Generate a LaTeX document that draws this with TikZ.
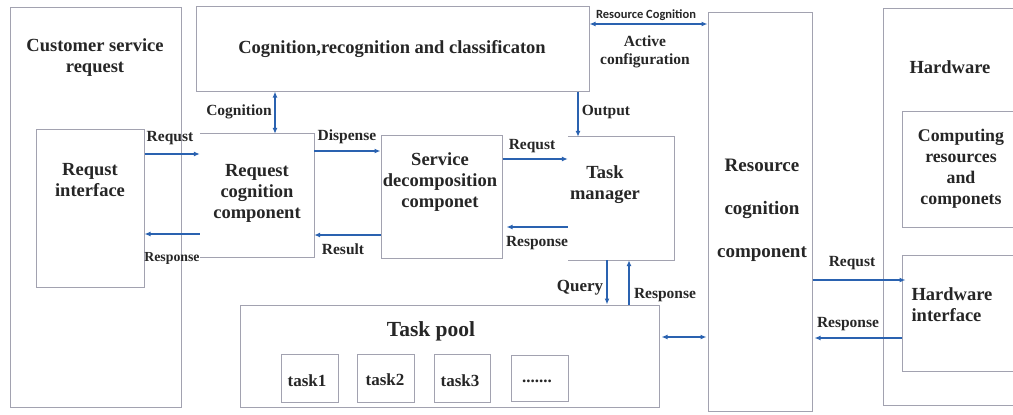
\documentclass[tikz,border=0pt]{standalone}
\usepackage{fontspec}
\setmainfont{Liberation Serif}
\newfontfamily\bodyfont{Liberation Serif}
\newfontfamily\smallsans{Carlito}
\usetikzlibrary{arrows.meta}
\definecolor{boxgray}{HTML}{A2A2B0}
\definecolor{arrowblue}{HTML}{2A62B0}
\definecolor{txt}{HTML}{262626}
\tikzset{
  box/.style={draw=boxgray, line width=1pt, fill=white, inner sep=0pt},
  openbox/.style={draw=none, fill=white, inner sep=0pt},
  main/.style={text=txt, align=center, font=\bodyfont\bfseries\fontsize{18.5}{21}\selectfont, inner sep=0pt},
  lbl/.style={text=txt, align=center, font=\bodyfont\bfseries\fontsize{15.5}{18.5}\selectfont, inner sep=0pt},
  conn/.style={draw=arrowblue, line width=1.6pt, -{Latex[length=6pt,width=5pt]}},
  biconn/.style={draw=arrowblue, line width=1.6pt, {Latex[length=6pt,width=5pt]}-{Latex[length=6pt,width=5pt]}},
}
\begin{document}
\begin{tikzpicture}[x=1pt,y=-1pt]
\useasboundingbox (0,0) rectangle (1013,415);
\clip (0,0) rectangle (1013,415);
% boxes
\node[box, minimum width=171pt, minimum height=400pt] (cust) at (95.5,207) {};
\node[box, minimum width=108pt, minimum height=158pt] (reqif) at (90,208) {};
\node[box, minimum width=393pt, minimum height=85pt] (cog) at (392.5,48.5) {};
\node[openbox, minimum width=114pt, minimum height=123pt] (rcc) at (257,195.5) {};
\draw[boxgray, line width=1pt] (rcc.north west) -- (rcc.north east) -- (rcc.south east) -- (rcc.south west);
\node[box, minimum width=121pt, minimum height=123pt] (sdc) at (441.5,196.5) {};
\node[openbox, minimum width=106pt, minimum height=123pt] (tm) at (621,198.5) {};
\draw[boxgray, line width=1pt] (tm.north west) -- (tm.north east) -- (tm.south east) -- (tm.south west);
\node[box, minimum width=104pt, minimum height=399pt] (res) at (760,211.5) {};
\node[box, minimum width=137pt, minimum height=397pt] (hw) at (951.5,206.5) {};
\node[box, minimum width=118pt, minimum height=116pt] (comp) at (961,169) {};
\node[box, minimum width=118pt, minimum height=116pt] (hwif) at (961,313) {};
\node[box, minimum width=419pt, minimum height=102pt] (pool) at (449.5,356) {};
\node[box, minimum width=57pt, minimum height=48pt] (t1) at (309.5,378) {};
\node[box, minimum width=57pt, minimum height=48pt] (t2) at (385.5,378) {};
\node[box, minimum width=56pt, minimum height=48pt] (t3) at (462,378) {};
\node[box, minimum width=57pt, minimum height=46pt] (t4) at (539.5,378) {};
% box texts
\node[main] (custT) at (95,57.5) {Customer service\\request};
\node[main] (cogT) at (392,49) {Cognition,recognition and classificaton};
\node[main] (reqifT) at (90,180) {Requst\\interface};
\node[main] (rccT) at (257,193) {Request\\cognition\\component};
\node[main] (sdcT) at (440,182) {Service\\decomposition\\componet};
\node[main] (tmT) at (605,185) {Task\\manager};
\node[main, font=\bodyfont\bfseries\fontsize{19}{43}\selectfont] (resT) at (762,210) {Resource\\cognition\\component};
\node[main] (hwT) at (950,67) {Hardware};
\node[main, font=\bodyfont\bfseries\fontsize{17.8}{21}\selectfont] (compT) at (961,169) {Computing\\resources\\and\\componets};
\node[main, align=left] (hwifT) at (952,305) {Hardware\\interface};
\node[main, font=\bodyfont\bfseries\fontsize{21.5}{24}\selectfont] (poolT) at (431,331) {Task pool};
\node[lbl, font=\bodyfont\bfseries\fontsize{17}{20}\selectfont] (t1T) at (307,381) {task1};
\node[lbl, font=\bodyfont\bfseries\fontsize{17}{20}\selectfont] (t2T) at (385,380) {task2};
\node[lbl, font=\bodyfont\bfseries\fontsize{17}{20}\selectfont] (t3T) at (460,381) {task3};
\node[lbl, font=\bodyfont\bfseries\fontsize{17}{20}\selectfont] (t4T) at (537,381) {.......};
% connectors
\draw[conn] (reqif.east |- 0,154) -- (rcc.west |- 0,154);
\draw[conn] (rcc.west |- 0,234) -- (reqif.east |- 0,234);
\draw[biconn] (cog.south -| 275,0) -- (rcc.north -| 275,0);
\draw[conn] (rcc.east |- 0,151) -- (sdc.west |- 0,151);
\draw[conn] (sdc.west |- 0,235) -- (rcc.east |- 0,235);
\draw[conn] (cog.south -| 578,0) -- (tm.north -| 578,0);
\draw[biconn] (cog.east |- 0,24) -- (res.west |- 0,24);
\draw[conn] (sdc.east |- 0,159) -- (tm.west |- 0,159);
\draw[conn] (tm.west |- 0,227) -- ([xshift=4pt]sdc.east |- 0,227);
\draw[conn] (tm.south -| 607,0) -- (pool.north -| 607,0);
\draw[conn] (pool.north -| 629,0) -- (tm.south -| 629,0);
\draw[biconn] ([xshift=2pt]pool.east |- 0,337) -- ([xshift=-1pt]res.west |- 0,337);
\draw[conn] (res.east |- 0,280) -- ([xshift=4pt]hwif.west |- 0,280);
\draw[conn] (hwif.west |- 0,338) -- ([xshift=2pt]res.east |- 0,338);
% connector labels
\node[lbl] (l1) at (170,138) {Requst};
\node[lbl, font=\bodyfont\bfseries\fontsize{13.8}{16}\selectfont] (l2) at (172,258) {Response};
\node[lbl] (l3) at (239,112) {Cognition};
\node[lbl] (l4) at (347,137) {Dispense};
\node[lbl] (l5) at (343,249) {Result};
\node[lbl] (l6) at (606,112) {Output};
\node[text=txt, font=\smallsans\bfseries\fontsize{12.5}{14}\selectfont, inner sep=0pt] (l7) at (646,15) {Resource Cognition};
\node[lbl] (l8) at (645,52) {Active\\configuration};
\node[lbl] (l9) at (532,146) {Requst};
\node[lbl] (l10) at (537,243) {Response};
\node[lbl, font=\bodyfont\bfseries\fontsize{17}{20}\selectfont] (l11) at (580,288) {Query};
\node[lbl] (l12) at (665,295) {Response};
\node[lbl] (l13) at (852,263) {Requst};
\node[lbl] (l14) at (848,324) {Response};
\end{tikzpicture}
\end{document}
